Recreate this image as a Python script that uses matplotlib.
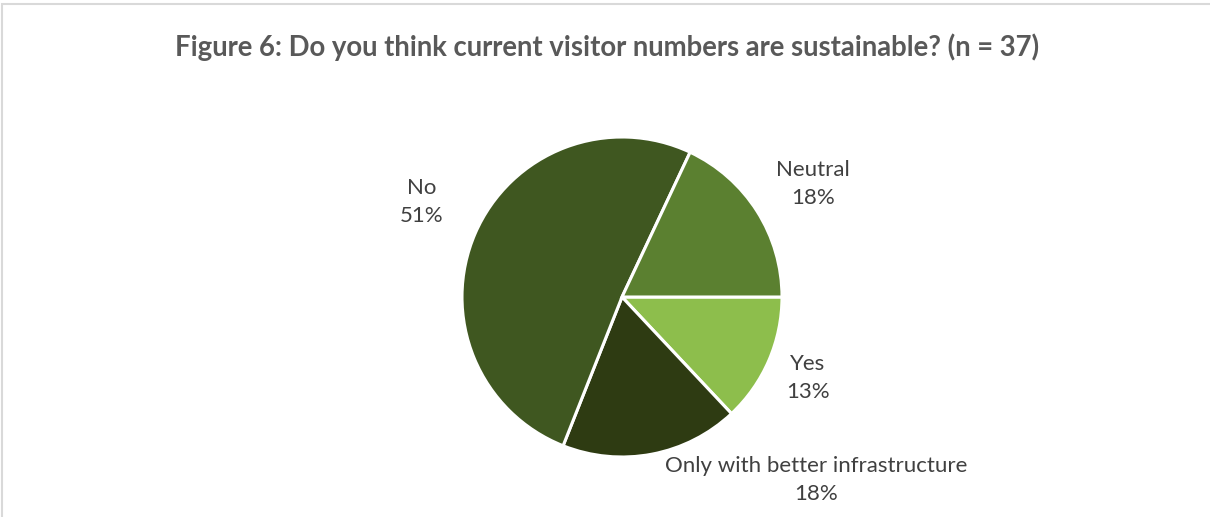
import matplotlib.pyplot as plt
from matplotlib.patches import Rectangle

# Survey responses (n = 37), clockwise from 3 o'clock
categories = ["Yes", "Only with better infrastructure", "No", "Neutral"]
shares = [13, 18, 51, 18]
colors = ["#8DBE4C", "#2E3B12", "#3F5720", "#5B8030"]

title = "Figure 6: Do you think current visitor numbers are sustainable? (n = 37)"

W, H = 1210, 517
cx, cy, r = 622, 297, 160  # pie centre and radius in pixels

# label centres (pixels, top-left origin)
label_pos = {
    "Yes": (808, 378),
    "Only with better infrastructure": (816, 480),
    "No": (422, 202),
    "Neutral": (813, 184),
}

plt.rcParams["font.family"] = ["Lato", "DejaVu Sans"]

fig = plt.figure(figsize=(W / 100, H / 100), dpi=100)
fig.patch.set_facecolor("white")

# chart frame (right and bottom edges fall outside the image)
fig.patches.append(Rectangle((1.5 / W, -0.1), 1.2, (H - 3.5) / H + 0.1,
                             transform=fig.transFigure, fill=False,
                             edgecolor="#D9D9D9", linewidth=1.5))

ax = fig.add_axes([(cx - r) / W, (H - cy - r) / H, 2 * r / W, 2 * r / H])
ax.pie(shares, colors=colors, startangle=0, counterclock=False, radius=1,
       wedgeprops=dict(edgecolor="white", linewidth=2.2))
ax.set_xlim(-1, 1)
ax.set_ylim(-1, 1)
ax.axis("off")

for name, val in zip(categories, shares):
    px, py = label_pos[name]
    ax.text((px - cx) / r, (cy - py) / r, f"{name}\n{val}%", ha="center", va="center",
            fontsize=16, color="#404040", linespacing=1.52, clip_on=False)

fig.text(607 / W, 1 - 47 / H, title, ha="center", va="center",
         fontsize=19.8, fontweight="bold", color="#595959")

fig.savefig("out.png", dpi=100)
